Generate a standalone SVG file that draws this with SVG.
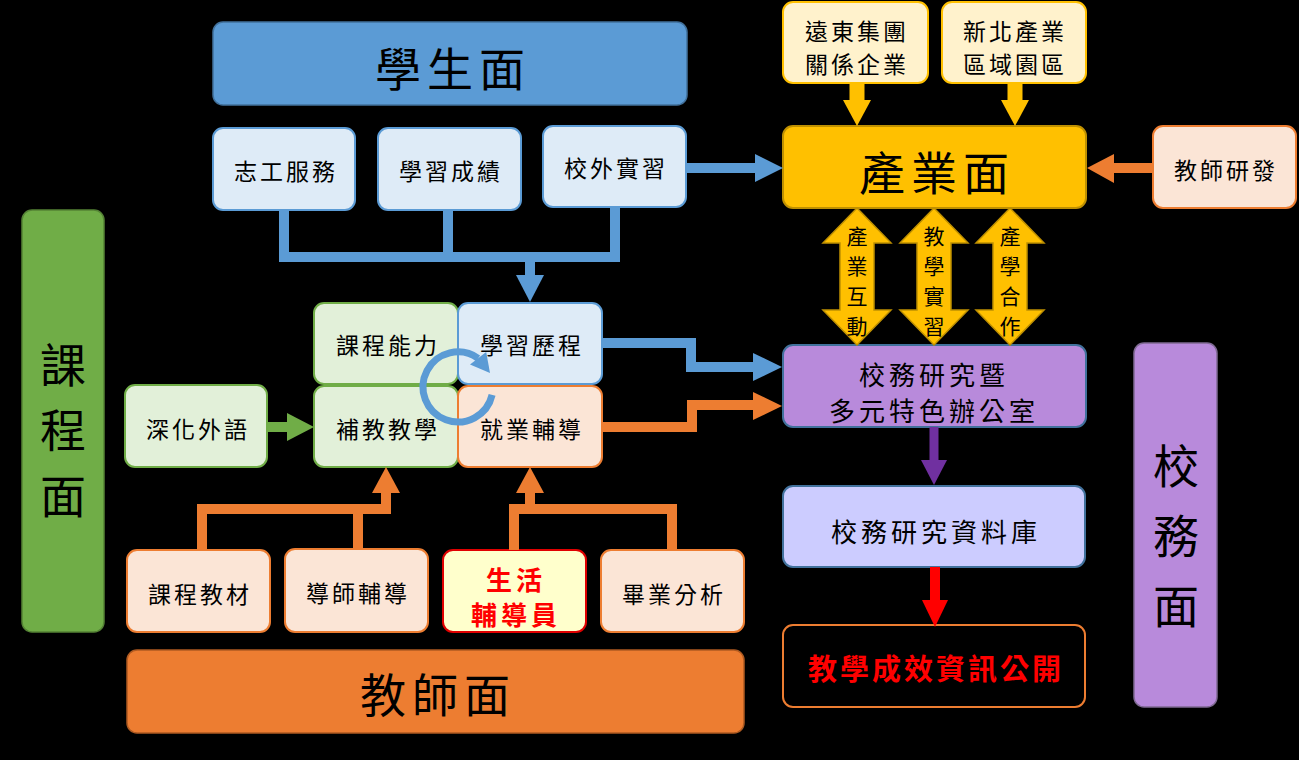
<svg xmlns="http://www.w3.org/2000/svg" width="1299" height="760" viewBox="0 0 1299 760">
<style>
text{font-family:"Noto Sans CJK TC","Noto Sans CJK SC",sans-serif;fill:#000;text-anchor:middle;dominant-baseline:central}
.big{font-size:46px;letter-spacing:6px}
.t{font-size:23px;letter-spacing:3px}
.m{font-size:26px;letter-spacing:4px}
.v{font-size:21px}
.blueB{fill:#DEEBF7;stroke:#5B9BD5;stroke-width:2}
.greenB{fill:#E2F0D9;stroke:#70AD47;stroke-width:2}
.orB{fill:#FBE5D6;stroke:#ED7D31;stroke-width:2}
.yeB{fill:#FFF2CC;stroke:#FFC000;stroke-width:2}
.ln{fill:none;stroke-width:10;stroke-linejoin:miter}
</style>
<rect x="0" y="0" width="1299" height="760" fill="#000"/>
<g id="nodes">
<g id="student"><rect x="213" y="22" width="474" height="83" rx="10" fill="#5B9BD5" stroke="#41719C" stroke-width="1.5"/><text class="big" x="453" y="66">學生面</text></g>
<g id="volunteer"><rect class="blueB" x="213" y="128" width="142" height="82" rx="10"/><text class="t" x="286" y="170">志工服務</text></g>
<g id="grades"><rect class="blueB" x="378" y="128" width="143" height="82" rx="10"/><text class="t" x="451" y="170">學習成績</text></g>
<g id="intern"><rect class="blueB" x="543" y="126" width="143" height="81" rx="10"/><text class="t" x="616" y="167">校外實習</text></g>
<g id="fareast"><rect class="yeB" x="783" y="2" width="145" height="81" rx="10"/><text class="t" x="857" y="30">遠東集團</text><text class="t" x="857" y="63">關係企業</text></g>
<g id="newtaipei"><rect class="yeB" x="942" y="2" width="144" height="81" rx="10"/><text class="t" x="1015" y="30">新北產業</text><text class="t" x="1015" y="63">區域園區</text></g>
<g id="industry"><rect x="783" y="126" width="303" height="82" rx="10" fill="#FFC000" stroke="#BF9000" stroke-width="2"/><text class="big" x="937" y="170">產業面</text></g>
<g id="teacherrd"><rect class="orB" x="1153" y="126" width="143" height="82" rx="10"/><text class="t" x="1226" y="169">教師研發</text></g>
<g id="course"><rect x="22" y="210" width="82" height="422" rx="10" fill="#70AD47" stroke="#548235" stroke-width="1.5"/><text class="big" x="63" y="362" style="letter-spacing:0">課</text><text class="big" x="63" y="427" style="letter-spacing:0">程</text><text class="big" x="63" y="493" style="letter-spacing:0">面</text></g>
<g id="ability"><rect class="greenB" x="314" y="303" width="144" height="81" rx="10"/><text class="t" x="388" y="344">課程能力</text></g>
<g id="portfolio"><rect class="blueB" x="458" y="303" width="144" height="81" rx="10"/><text class="t" x="532" y="344">學習歷程</text></g>
<g id="remedial"><rect class="greenB" x="314" y="386" width="144" height="81" rx="10"/><text class="t" x="388" y="428">補教教學</text></g>
<g id="career"><rect class="orB" x="458" y="386" width="144" height="81" rx="10"/><text class="t" x="532" y="428">就業輔導</text></g>
<g id="language"><rect class="greenB" x="125" y="385" width="142" height="82" rx="10"/><text class="t" x="198" y="428">深化外語</text></g>
<g id="material"><rect class="orB" x="127" y="550" width="143" height="82" rx="10"/><text class="t" x="200" y="593">課程教材</text></g>
<g id="mentor"><rect class="orB" x="285" y="549" width="143" height="83" rx="10"/><text class="t" x="358" y="592">導師輔導</text></g>
<g id="lifecounselor"><rect x="443" y="550" width="143" height="82" rx="10" fill="#FFFFCC" stroke="#E00000" stroke-width="2"/><text class="m" x="516" y="578" style="fill:#FF0000;font-weight:bold">生活</text><text class="m" x="516" y="613" style="fill:#FF0000;font-weight:bold">輔導員</text></g>
<g id="graduate"><rect class="orB" x="601" y="550" width="143" height="82" rx="10"/><text class="t" x="674" y="593">畢業分析</text></g>
<g id="teacher"><rect x="127" y="650" width="617" height="83" rx="10" fill="#ED7D31" stroke="#AE5A21" stroke-width="1.5"/><text class="big" x="438" y="692">教師面</text></g>
<g id="office"><rect x="783" y="345" width="303" height="82" rx="10" fill="#B88ADB" stroke="#41719C" stroke-width="2"/><text class="m" x="934" y="373">校務研究暨</text><text class="m" x="934" y="409">多元特色辦公室</text></g>
<g id="database"><rect x="783" y="486" width="302" height="81" rx="10" fill="#CCCCFF" stroke="#41719C" stroke-width="2"/><text class="m" x="936" y="530">校務研究資料庫</text></g>
<g id="publish"><rect x="783" y="625" width="302" height="82" rx="10" fill="none" stroke="#ED7D31" stroke-width="2"/><text class="m" x="936" y="667" style="fill:#FF0000;font-weight:bold;font-size:29px;letter-spacing:3px">教學成效資訊公開</text></g>
<g id="admin"><rect x="1134" y="343" width="83" height="364" rx="10" fill="#B88ADB" stroke="#7F6A93" stroke-width="1.5"/><text class="big" x="1176" y="463" style="letter-spacing:0">校</text><text class="big" x="1176" y="533" style="letter-spacing:0">務</text><text class="big" x="1176" y="603" style="letter-spacing:0">面</text></g>
</g>
<g id="connectors">
<path class="ln" stroke="#5B9BD5" d="M284 210 V257 H615 V207 M448 210 V257 M530 257 V277"/>
<polygon fill="#5B9BD5" points="516,275 544,275 530,302"/>
<path class="ln" stroke="#5B9BD5" d="M686 168 H757"/>
<polygon fill="#5B9BD5" points="755,154 755,182 783,168"/>
<path class="ln" stroke="#5B9BD5" d="M602 343 H691 V367 H755"/>
<polygon fill="#5B9BD5" points="753,353 753,381 782,367"/>
<path class="ln" stroke="#ED7D31" d="M602 427 H692 V405 H755"/>
<polygon fill="#ED7D31" points="753,392 753,420 782,406"/>
<path class="ln" stroke="#70AD47" d="M267 427 H289"/>
<polygon fill="#70AD47" points="287,413 287,441 314,427"/>
<path class="ln" stroke="#ED7D31" d="M202 550 V509 H386 V491 M358 549 V509"/>
<polygon fill="#ED7D31" points="372,493 400,493 386,467"/>
<path class="ln" stroke="#ED7D31" d="M514 550 V509 H672 V550 M530 509 V491"/>
<polygon fill="#ED7D31" points="516,493 544,493 530,467"/>
<path class="ln" stroke="#FFC000" stroke-width="15" d="M857 83 V102 M1015 83 V102" style="stroke-width:15"/>
<polygon fill="#FFC000" points="843,100 871,100 857,126"/>
<polygon fill="#FFC000" points="1001,100 1029,100 1015,126"/>
<path class="ln" stroke="#ED7D31" d="M1153 168 H1112"/>
<polygon fill="#ED7D31" points="1114,154 1114,183 1087,168"/>
<g fill="#FFC000" stroke="#BF9000" stroke-width="1.5">
<polygon points="857,208 891,243 874,243 874,310 891,310 857,345 823,310 840,310 840,243 823,243"/>
<polygon points="934,208 968,243 951,243 951,310 968,310 934,345 900,310 917,310 917,243 900,243"/>
<polygon points="1010,208 1044,243 1027,243 1027,310 1044,310 1010,345 976,310 993,310 993,243 976,243"/>
</g>
<text class="v" x="857" y="235">產</text><text class="v" x="857" y="265">業</text><text class="v" x="857" y="295">互</text><text class="v" x="857" y="325">動</text>
<text class="v" x="934" y="235">教</text><text class="v" x="934" y="265">學</text><text class="v" x="934" y="295">實</text><text class="v" x="934" y="325">習</text>
<text class="v" x="1010" y="235">產</text><text class="v" x="1010" y="265">學</text><text class="v" x="1010" y="295">合</text><text class="v" x="1010" y="325">作</text>
<path class="ln" stroke="#7030A0" d="M934 427 V462" style="stroke-width:9"/>
<polygon fill="#7030A0" points="921,460 947,460 934,485"/>
<path class="ln" stroke="#FF0000" d="M935 567 V602"/>
<polygon fill="#FF0000" points="922,600 948,600 935,627"/>
<path fill="none" stroke="#5B9BD5" stroke-width="7" d="M492.1 394.9 A35 35 0 1 1 478.1 358.3"/>
<polygon fill="#5B9BD5" points="470,364.5 486.2,352 490,373"/>
</g>
</svg>
